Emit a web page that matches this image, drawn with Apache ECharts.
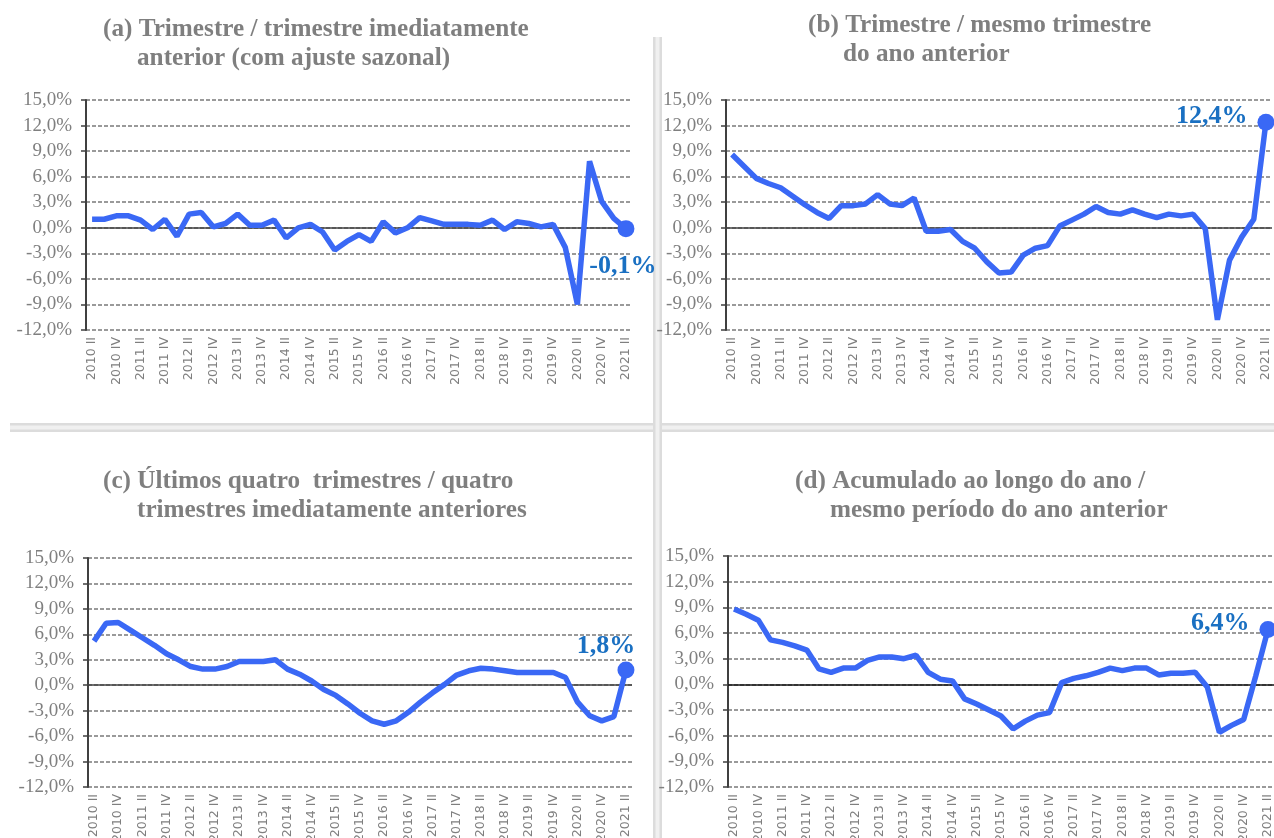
<!DOCTYPE html>
<html>
<head>
<meta charset="utf-8">
<script src="https://cdn.jsdelivr.net/npm/echarts@6/dist/echarts.min.js"></script>
<style>
html,body{margin:0;padding:0;background:#fff;}
#chart{width:1274px;height:838px;}
</style>
</head>
<body>
<div id="chart"></div>
<script>
const categories = ["2010 II","2010 III","2010 IV","2011 I","2011 II","2011 III","2011 IV","2012 I","2012 II","2012 III","2012 IV","2013 I","2013 II","2013 III","2013 IV","2014 I","2014 II","2014 III","2014 IV","2015 I","2015 II","2015 III","2015 IV","2016 I","2016 II","2016 III","2016 IV","2017 I","2017 II","2017 III","2017 IV","2018 I","2018 II","2018 III","2018 IV","2019 I","2019 II","2019 III","2019 IV","2020 I","2020 II","2020 III","2020 IV","2021 I","2021 II"];

const serieA = [1.0,1.0,1.4,1.4,0.9,-0.2,1.0,-1.0,1.6,1.8,0.1,0.5,1.6,0.3,0.3,0.9,-1.2,0.0,0.4,-0.5,-2.6,-1.6,-0.8,-1.6,0.7,-0.6,0.0,1.2,0.8,0.4,0.4,0.4,0.3,0.9,-0.2,0.7,0.5,0.1,0.4,-2.3,-9.0,7.8,3.1,1.1,-0.1];
const serieB = [8.6,7.2,5.8,5.2,4.7,3.7,2.7,1.8,1.1,2.6,2.6,2.8,3.9,2.8,2.6,3.5,-0.4,-0.4,-0.2,-1.6,-2.4,-4.0,-5.3,-5.2,-3.2,-2.4,-2.1,0.2,0.9,1.6,2.5,1.8,1.6,2.1,1.6,1.2,1.6,1.4,1.6,-0.1,-10.8,-3.8,-1.1,1.0,12.4];
const serieC = [5.2,7.3,7.4,6.5,5.6,4.7,3.7,3.0,2.2,1.9,1.9,2.2,2.8,2.8,2.8,3.0,1.9,1.3,0.5,-0.5,-1.2,-2.2,-3.3,-4.2,-4.6,-4.2,-3.2,-2.0,-0.9,0.1,1.2,1.7,2.0,1.9,1.7,1.5,1.5,1.5,1.5,0.9,-2.0,-3.6,-4.2,-3.7,1.8];
const serieD = [8.8,8.2,7.5,5.2,4.9,4.5,4.0,1.8,1.4,1.9,1.9,2.8,3.2,3.2,3.0,3.4,1.4,0.6,0.4,-1.7,-2.3,-3.0,-3.7,-5.2,-4.3,-3.6,-3.3,0.2,0.7,1.0,1.4,1.9,1.6,1.9,1.9,1.1,1.3,1.3,1.4,-0.3,-5.6,-4.8,-4.1,1.0,6.4];

const titlesA = ["(a) Trimestre / trimestre imediatamente", "anterior (com ajuste sazonal)"];
const titlesB = ["(b) Trimestre / mesmo trimestre", "do ano anterior"];
const titlesC = ["(c) Últimos quatro  trimestres / quatro", "trimestres imediatamente anteriores"];
const titlesD = ["(d) Acumulado ao longo do ano /", "mesmo período do ano anterior"];

const yMin = -12, yMax = 15, yStep = 3;

const LINE_COLOR = '#3a68f5';
const LABEL_COLOR = '#1a70c2';
const GRAY = '#7f7f7f';

function fmtPct(v){ return v.toFixed(1).replace('.', ',') + '%'; }

const grids = [
  {left: 86, top: 100, width: 546, height: 230},
  {left: 726, top: 100, width: 546, height: 230},
  {left: 88, top: 558, width: 544, height: 229},
  {left: 728, top: 556, width: 546, height: 231}
].map(g => Object.assign(g, {containLabel: false, outerBoundsMode: 'none'}));

const labelCfg = [
  {position: 'bottom', distance: 16, offset: [-3, 0]},
  {position: 'left', distance: 10, offset: [0, -6]},
  {position: 'top', distance: 7, offset: [-20, 5]},
  {position: 'left', distance: 10, offset: [0, -6]}
];
const zeroColors = ['#404040', '#404040', '#404040', '#111111'];

const allSeries = [serieA, serieB, serieC, serieD];

const xAxes = grids.map((g, i) => ({
  type: 'category', gridIndex: i, data: categories, boundaryGap: true,
  axisLine: {show: false}, axisTick: {show: false},
  axisLabel: {interval: 1, rotate: 90, color: GRAY, fontSize: 12.5, margin: 7,
    fontFamily: 'DejaVu Sans'},
  splitLine: {show: false}
}));

const yAxes = grids.map((g, i) => ({
  type: 'value', gridIndex: i, min: yMin, max: yMax, interval: yStep,
  axisLine: {show: true, lineStyle: {color: '#404040', width: 2}},
  axisTick: {show: true, inside: false, length: 5, lineStyle: {color: '#404040', width: 1.5}},
  axisLabel: {color: GRAY, fontSize: 19, fontFamily: 'Liberation Serif', margin: 14,
    formatter: fmtPct},
  splitLine: {show: true, lineStyle: {color: '#7a7a7a', type: [4, 2], width: 1.5}}
}));

const series = allSeries.map((vals, i) => {
  const last = vals.length - 1;
  return {
    type: 'line', xAxisIndex: i, yAxisIndex: i,
    data: vals.map((v, k) => k === last ? {
      value: v, symbol: 'circle', symbolSize: 17,
      label: {show: true, position: labelCfg[i].position, distance: labelCfg[i].distance,
        offset: labelCfg[i].offset, formatter: (p) => fmtPct(p.value),
        color: LABEL_COLOR, fontFamily: 'Liberation Serif', fontWeight: 'bold', fontSize: 26}
    } : {value: v, symbol: 'none', symbolSize: 0}),
    showSymbol: true, showAllSymbol: true,
    lineStyle: {color: LINE_COLOR, width: 5.5},
    itemStyle: {color: LINE_COLOR},
    animation: false,
    silent: true,
    z: 5,
    markLine: {
      silent: true, symbol: 'none', label: {show: false},
      lineStyle: {color: zeroColors[i], type: 'solid', width: 1.6},
      data: [{yAxis: 0}],
      z: 3
    }
  };
});

function titleText(x, y, text){
  return {type: 'text', x: x, y: y, scaleX: 0.97, z: 10,
    style: {text: text, font: 'bold 26px "Liberation Serif"', fill: GRAY,
      verticalAlign: 'middle', align: 'left'}};
}

const graphic = [
  {type: 'rect', shape: {x: 10, y: 423, width: 1264, height: 9}, style: {fill: '#dcdcdc'}, z: 0},
  {type: 'rect', shape: {x: 10, y: 425.5, width: 1264, height: 4}, style: {fill: '#f0f0f0'}, z: 0},
  {type: 'rect', shape: {x: 653, y: 37, width: 9, height: 801}, style: {fill: '#dcdcdc'}, z: 0},
  {type: 'rect', shape: {x: 655.5, y: 37, width: 4, height: 801}, style: {fill: '#f0f0f0'}, z: 0},
  titleText(103, 29, titlesA[0]), titleText(137, 58, titlesA[1]),
  titleText(808, 25, titlesB[0]), titleText(843, 54, titlesB[1]),
  titleText(103, 481, titlesC[0]), titleText(137, 510, titlesC[1]),
  titleText(795, 481, titlesD[0]), titleText(830, 510, titlesD[1])
];

const chart = echarts.init(document.getElementById('chart'), null, {renderer: 'canvas'});
chart.setOption({
  animation: false,
  backgroundColor: '#ffffff',
  grid: grids,
  xAxis: xAxes,
  yAxis: yAxes,
  series: series,
  graphic: graphic
});
</script>
</body>
</html>
